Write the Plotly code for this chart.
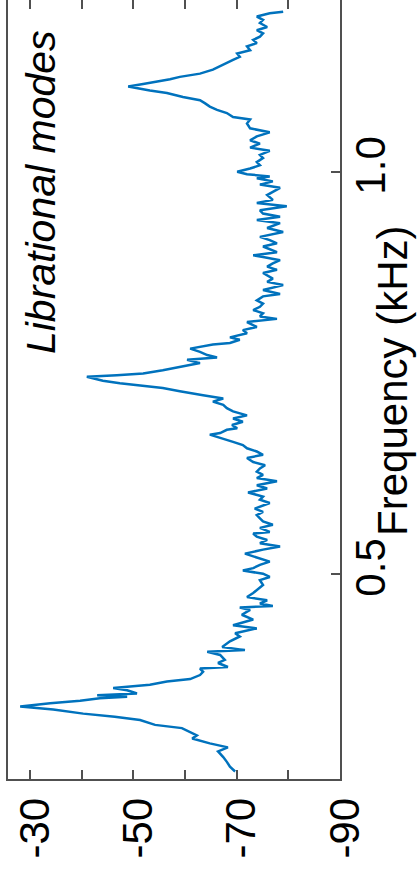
import plotly.graph_objects as go

# Frequency (kHz) and power (dB)
freq_khz = [
    0.254, 0.260, 0.266, 0.272, 0.279, 0.284, 0.289, 0.295, 0.299, 0.304,
    0.308, 0.312, 0.318, 0.322, 0.326, 0.331, 0.335, 0.339, 0.342, 0.345,
    0.347, 0.349, 0.351, 0.355, 0.358, 0.362, 0.366, 0.369, 0.374, 0.378,
    0.382, 0.384, 0.389, 0.393, 0.399, 0.403, 0.405, 0.409, 0.416, 0.422,
    0.426, 0.432, 0.436, 0.443, 0.449, 0.455, 0.458, 0.460, 0.463, 0.467,
    0.471, 0.476, 0.480, 0.486, 0.492, 0.496, 0.500, 0.504, 0.507, 0.511,
    0.515, 0.519, 0.525, 0.530, 0.534, 0.538, 0.542, 0.546, 0.550, 0.552,
    0.557, 0.561, 0.565, 0.569, 0.573, 0.577, 0.581, 0.588, 0.592,
    0.596, 0.601, 0.606, 0.610, 0.615, 0.619, 0.623, 0.627, 0.631, 0.635,
    0.639, 0.644, 0.648, 0.652, 0.656, 0.660, 0.664, 0.668, 0.673, 0.675,
    0.679, 0.681, 0.685, 0.689, 0.693, 0.697, 0.702, 0.706, 0.710, 0.714,
    0.718, 0.722, 0.724, 0.727, 0.731, 0.734, 0.737, 0.740,
    0.745, 0.747, 0.749, 0.753, 0.758, 0.762, 0.766, 0.769, 0.772, 0.776,
    0.780, 0.785, 0.787, 0.791, 0.794, 0.799, 0.803, 0.807, 0.811, 0.813,
    0.817, 0.820, 0.824, 0.828, 0.832, 0.836, 0.840, 0.845, 0.848, 0.853,
    0.859, 0.863, 0.867, 0.874, 0.878, 0.882, 0.886, 0.890, 0.894, 0.896,
    0.900,
    0.907, 0.911, 0.915, 0.919, 0.925, 0.930, 0.936, 0.940, 0.944, 0.948,
    0.952, 0.957, 0.961, 0.965, 0.971, 0.975, 0.980, 0.984, 0.988, 0.992,
    0.994, 0.997, 1.000, 1.004, 1.008, 1.012, 1.017, 1.021, 1.026, 1.030,
    1.035, 1.039, 1.044, 1.049, 1.054,
    1.060, 1.065, 1.068, 1.073, 1.077, 1.081, 1.085, 1.089, 1.093, 1.098,
    1.101, 1.104, 1.106, 1.109, 1.112, 1.115, 1.118, 1.122, 1.127, 1.131,
    1.135, 1.139, 1.143, 1.147, 1.151, 1.156, 1.160, 1.164, 1.168, 1.172,
    1.176, 1.180, 1.185, 1.189, 1.193, 1.197, 1.199,
]

power_db = [
    -69.7, -68.7, -68.1, -67.4, -66.4, -68.3, -64.8, -61.4, -62.3, -60.6,
    -59.4, -54.2, -51.3, -46.4, -40.3, -34.5, -28.1, -33.9, -39.7, -43.5,
    -48.8, -43.0, -50.7, -48.8, -46.1, -53.2, -56.5, -61.0, -62.9, -63.5,
    -62.9, -68.3, -66.4, -67.7, -66.8, -64.3, -71.6, -67.2, -68.7, -70.6,
    -69.7, -73.9, -69.3, -73.2, -71.0, -72.6, -70.6, -77.0, -74.5, -75.9,
    -72.0, -73.2, -73.9, -75.1, -74.5, -76.4, -75.1, -71.2, -73.2, -74.5,
    -76.4, -74.5, -71.6, -75.1, -78.4, -74.5, -75.9, -73.9, -73.2, -76.4,
    -74.5, -77.0, -75.1, -74.5, -73.9, -75.1, -73.5, -76.4, -74.5,
    -75.1, -72.2, -75.9, -73.9, -77.8, -73.9, -75.1, -73.9, -74.5, -75.5,
    -73.2, -72.0, -75.1, -73.9, -72.0, -71.2, -69.3, -67.4, -64.8, -66.8,
    -68.1, -70.1, -69.1, -71.2, -69.3, -72.0, -69.3, -68.1, -67.4, -65.4,
    -67.4, -63.5, -61.5, -59.0, -55.7, -51.3, -47.4, -44.1,
    -41.0, -46.8, -51.9, -55.7, -59.6, -62.9, -60.4, -66.2, -64.3, -62.9,
    -61.0, -65.4, -68.7, -70.6, -68.7, -72.0, -71.2, -73.9, -72.6, -72.0,
    -77.8, -74.5, -75.1, -73.2, -74.5, -75.1, -73.9, -75.1, -78.4, -75.1,
    -79.0, -75.9, -77.0, -75.1, -77.8, -75.9, -77.0, -78.4, -75.1, -73.2,
    -77.8,
    -75.1, -77.8, -76.4, -74.5, -79.0, -75.9, -78.4, -73.9, -78.4, -75.1,
    -74.5, -79.7, -73.9, -77.0, -75.9, -77.0, -78.4, -74.5, -77.0, -73.9,
    -76.4, -72.0, -70.1, -72.6, -74.5, -73.9, -75.1, -74.5, -76.4, -72.6,
    -74.5, -72.6, -73.9, -76.4, -72.6,
    -72.0, -72.6, -69.3, -68.1, -66.2, -64.8, -63.9, -62.9, -59.6, -56.5,
    -53.2, -50.7, -49.0, -51.9, -54.6, -57.1, -59.0, -62.9, -65.4, -66.8,
    -68.1, -69.3, -70.6, -70.1, -72.6, -72.0, -73.9, -73.2, -74.5, -75.1,
    -73.9, -75.9, -74.5, -75.1, -73.9, -76.4, -79.0,
]

db_ticks = [-30, -40, -50, -60, -70, -80, -90]
db_labels = ["-30", "", "-50", "", "-70", "", "-90"]
freq_ticks = [0.5, 1.0]
freq_labels = ["0.5", "1.0"]

AX = "#505050"
FONT = "Liberation Sans, Arial, Helvetica, sans-serif"

fig = go.Figure()
fig.add_trace(go.Scatter(
    x=power_db, y=freq_khz, mode="lines",
    line=dict(color="#0072BD", width=2.5),
    showlegend=False, hoverinfo="skip",
))
# helper trace so the mirrored top tick axis is created
fig.add_trace(go.Scatter(x=[], y=[], xaxis="x2", yaxis="y", showlegend=False))

fig.update_layout(
    width=417, height=873,
    margin=dict(l=8, r=77, t=0, b=94, pad=0),
    paper_bgcolor="white", plot_bgcolor="white",
    font=dict(family=FONT, color="black", size=42),
    xaxis=dict(
        range=[-25.74, -90.0], tickvals=db_ticks, ticktext=db_labels,
        ticks="inside", ticklen=9, tickwidth=2, tickcolor=AX,
        showline=True, linecolor=AX, linewidth=2, mirror=False,
        showgrid=False, zeroline=False, tickangle=-90,
        ticklabelshift=-5,
        tickfont=dict(family=FONT, size=42, color="black"),
    ),
    xaxis2=dict(
        overlaying="x", side="top", anchor="y",
        range=[-25.74, -90.0], tickvals=db_ticks,
        ticks="inside", ticklen=9, tickwidth=2, tickcolor=AX,
        showticklabels=False, showline=False, showgrid=False, zeroline=False,
    ),
    yaxis=dict(
        side="right", range=[0.2447, 1.2136],
        tickvals=freq_ticks, ticktext=freq_labels,
        ticks="inside", ticklen=9, tickwidth=2, tickcolor=AX,
        showline=True, linecolor=AX, linewidth=2, mirror=True,
        showgrid=False, zeroline=False, tickangle=-90,
        ticklabelstandoff=-7,
        tickfont=dict(family=FONT, size=42, color="black"),
    ),
    annotations=[
        dict(text="<i>Librational modes</i>", xref="paper", yref="paper",
             x=0.0995, y=0.7535, xanchor="center", yanchor="middle",
             textangle=-90, showarrow=False,
             font=dict(family=FONT, size=41, color="black")),
        dict(text="Frequency (kHz)", xref="paper", yref="paper",
             x=1.1596, y=0.511, xanchor="center", yanchor="middle",
             textangle=-90, showarrow=False,
             font=dict(family=FONT, size=42, color="black")),
    ],
)

fig.write_html("out.html")
